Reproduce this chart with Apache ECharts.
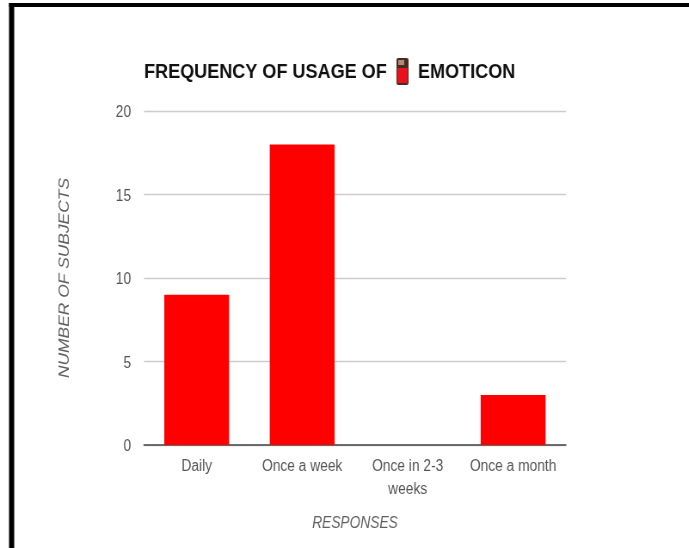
<!DOCTYPE html>
<html>
<head>
<meta charset="utf-8">
<style>
html,body{margin:0;padding:0;background:#fff;overflow:hidden;width:689px;height:548px}
/* the drawing is laid out wider, then condensed horizontally */
#chart{width:801px;height:548px;transform:scaleX(0.86);transform-origin:0 0}
</style>
<script src="https://cdn.jsdelivr.net/npm/echarts@6/dist/echarts.min.js"></script>
</head>
<body>
<div id="chart"></div>
<script>
const categories = ['Daily', 'Once a week', 'Once in 2-3\nweeks', 'Once a month'];
const subjects = [9, 18, 0, 3];
const yTicks = [0, 5, 10, 15, 20];
const font = '"Liberation Sans", Arial, sans-serif';

const chart = echarts.init(document.getElementById('chart'), null, { renderer: 'canvas' });
chart.setOption({
  animation: false,
  backgroundColor: '#fff',
  grid: { left: 167.4, right: 143, top: 111, bottom: 103 },
  xAxis: {
    type: 'category',
    data: categories,
    name: 'RESPONSES',
    nameLocation: 'middle',
    nameGap: 71,
    nameTextStyle: { fontFamily: font, fontSize: 16, fontStyle: 'italic', color: '#5f5f5f' },
    axisLine: { lineStyle: { color: '#444', width: 1.5 } },
    axisTick: { show: false },
    axisLabel: { fontFamily: font, fontSize: 16, color: '#555', margin: 10, lineHeight: 23, interval: 0 }
  },
  yAxis: {
    type: 'value',
    min: yTicks[0],
    max: yTicks[yTicks.length - 1],
    interval: 5,
    name: 'NUMBER OF SUBJECTS',
    nameLocation: 'middle',
    nameGap: 84,
    nameTextStyle: { fontFamily: font, fontSize: 17.4, fontStyle: 'italic', color: '#5f5f5f' },
    axisLine: { show: false },
    axisTick: { show: false },
    axisLabel: {
      margin: 15,
      formatter: '{tick|{value}}',
      rich: { tick: { fontFamily: font, fontSize: 16, color: '#555', padding: [4, 0, 0, 0] } }
    },
    splitLine: { lineStyle: { color: '#ccc', width: 1.3 } }
  },
  series: [{
    type: 'bar',
    data: subjects,
    barWidth: '61.5%',
    itemStyle: { color: '#ff0000' }
  }],
  graphic: [
    // black frame along the top and left edges
    { type: 'rect', shape: { x: 10.5, y: 3, width: 791, height: 4 }, style: { fill: '#000' } },
    { type: 'rect', shape: { x: 10.5, y: 3, width: 6, height: 545 }, style: { fill: '#000' } },
    // heading on either side of the chocolate bar glyph
    { type: 'text', x: 167.4, y: 62, style: { text: 'FREQUENCY OF USAGE OF', fontFamily: font, fontWeight: 'bold', fontSize: 21, fill: '#111' } },
    { type: 'text', x: 486, y: 62, style: { text: 'EMOTICON', fontFamily: font, fontWeight: 'bold', fontSize: 21, fill: '#111' } },
    // chocolate bar glyph
    { type: 'rect', shape: { x: 461, y: 58, width: 14, height: 27, r: 2 }, style: { fill: '#4a2a20' } },
    { type: 'rect', shape: { x: 463, y: 60, width: 7, height: 5 }, style: { fill: '#b08a76' } },
    { type: 'rect', shape: { x: 462, y: 68, width: 12, height: 15 }, style: { fill: '#e8121f' } }
  ]
});
</script>
</body>
</html>
